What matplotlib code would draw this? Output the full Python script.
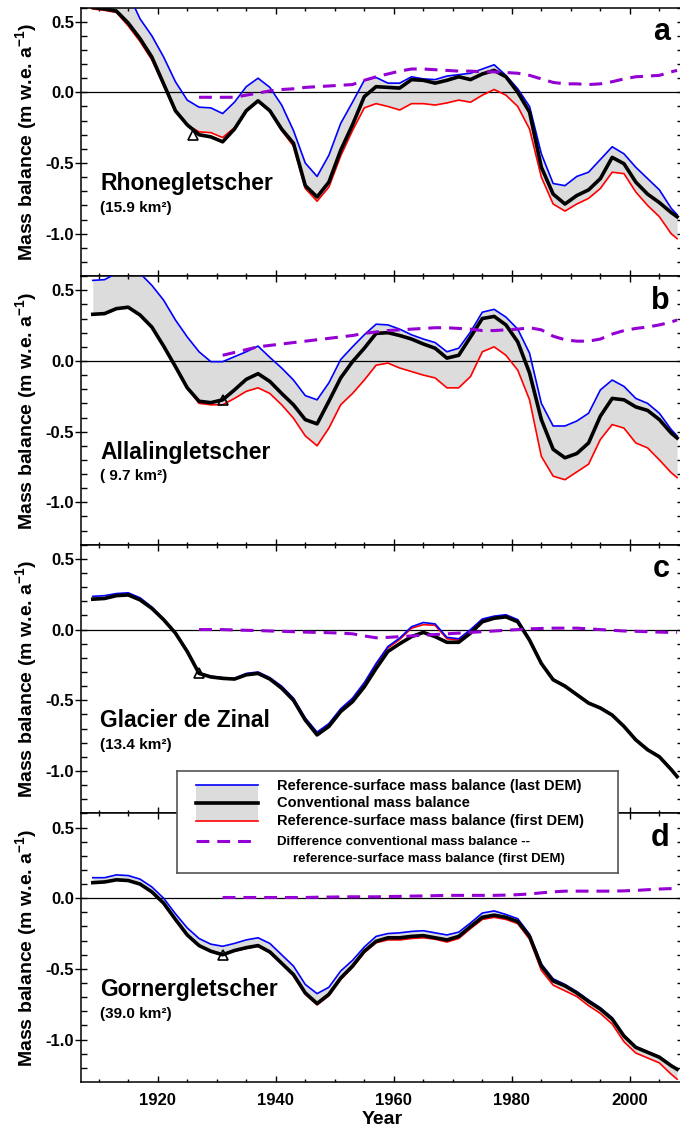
import numpy as np
import matplotlib
matplotlib.use("Agg")
import matplotlib.pyplot as plt
from matplotlib.patches import Rectangle

plt.rcParams['font.family'] = ['Liberation Sans', 'DejaVu Sans']
plt.rcParams['font.weight'] = 'bold'
plt.rcParams['mathtext.fontset'] = 'custom'
plt.rcParams['mathtext.rm'] = 'Liberation Sans:bold'
plt.rcParams['mathtext.default'] = 'rm'

# ---------------- data ----------------
YEARS = list(range(1909, 2008, 2)) + [2008]
NAN = float('nan')

GLACIERS = ['Rhonegletscher', 'Allalingletscher', 'Glacier de Zinal', 'Gornergletscher']
AREAS = ['(15.9 km\u00b2)', '( 9.7 km\u00b2)', '(13.4 km\u00b2)', '(39.0 km\u00b2)']
LETTERS = ['a', 'b', 'c', 'd']

# first-DEM marker (triangle)
TRI_YEAR = [1926, 1931, 1927, 1931]
TRI_VALUE = [-0.30, -0.275, -0.31, -0.40]

# Panel a: Rhonegletscher
conv_a = [0.60, 0.59, 0.575, 0.49, 0.38, 0.25, 0.06, -0.13, -0.23, -0.30, -0.315,
          -0.35, -0.26, -0.13, -0.06, -0.13, -0.26, -0.36, -0.66, -0.74, -0.635,
          -0.41, -0.23, -0.03, 0.04, 0.035, 0.03, 0.09, 0.085, 0.065, 0.085,
          0.11, 0.09, 0.13, 0.155, 0.11, 0.0, -0.14, -0.53, -0.72, -0.79,
          -0.73, -0.69, -0.61, -0.46, -0.505, -0.635, -0.72, -0.78, -0.85, -0.88]
last_a = [0.78, 0.80, 0.79, 0.70, 0.52, 0.40, 0.25, 0.075, -0.055, -0.105, -0.11,
          -0.15, -0.07, 0.04, 0.10, 0.035, -0.09, -0.27, -0.50, -0.595, -0.445,
          -0.22, -0.07, 0.085, 0.105, 0.065, 0.065, 0.11, 0.095, 0.09, 0.115,
          0.125, 0.135, 0.165, 0.195, 0.12, 0.025, -0.10, -0.435, -0.645, -0.66,
          -0.595, -0.565, -0.475, -0.385, -0.435, -0.53, -0.61, -0.69, -0.82, -0.865]
first_a = [0.59, 0.58, 0.565, 0.47, 0.36, 0.23, 0.05, -0.14, -0.23, -0.28, -0.285,
           -0.32, -0.25, -0.13, -0.065, -0.135, -0.27, -0.38, -0.68, -0.77, -0.67,
           -0.45, -0.27, -0.11, -0.08, -0.10, -0.125, -0.08, -0.08, -0.09, -0.075,
           -0.055, -0.07, -0.02, 0.02, -0.02, -0.10, -0.26, -0.60, -0.79, -0.84,
           -0.79, -0.75, -0.68, -0.565, -0.575, -0.705, -0.80, -0.88, -1.00, -1.035]
diff_a = [NAN] * 9 + [-0.035, -0.035, -0.035, -0.035, -0.02, -0.005, 0.01, 0.02, 0.025, 0.035,
                      0.04, 0.045, 0.05, 0.055, 0.085, 0.11, 0.13, 0.15, 0.165, 0.165,
                      0.16, 0.155, 0.15, 0.15, 0.145, 0.145, 0.14, 0.135, 0.12, 0.095,
                      0.07, 0.06, 0.06, 0.055, 0.06, 0.075, 0.095, 0.11, 0.115, 0.12,
                      0.145, 0.155]

# Panel b: Allalingletscher
conv_b = [0.33, 0.335, 0.37, 0.38, 0.325, 0.24, 0.105, -0.04, -0.19, -0.285, -0.295,
          -0.275, -0.205, -0.13, -0.09, -0.145, -0.23, -0.31, -0.415, -0.445, -0.285,
          -0.12, -0.005, 0.09, 0.195, 0.20, 0.18, 0.155, 0.12, 0.09, 0.02,
          0.04, 0.17, 0.30, 0.315, 0.255, 0.135, -0.085, -0.415, -0.625, -0.685,
          -0.655, -0.58, -0.39, -0.265, -0.275, -0.325, -0.35, -0.415, -0.51, -0.545]
last_b = [0.57, 0.575, 0.62, 0.65, 0.62, 0.535, 0.43, 0.29, 0.17, 0.065, -0.005,
          -0.005, 0.03, 0.065, 0.105, 0.025, -0.05, -0.135, -0.245, -0.275, -0.155,
          0.01, 0.10, 0.185, 0.26, 0.255, 0.225, 0.185, 0.155, 0.13, 0.065,
          0.09, 0.205, 0.345, 0.365, 0.31, 0.225, 0.055, -0.30, -0.46, -0.46,
          -0.425, -0.37, -0.205, -0.135, -0.18, -0.265, -0.30, -0.37, -0.485, -0.53]
first_b = [0.33, 0.335, 0.37, 0.38, 0.325, 0.24, 0.105, -0.04, -0.19, -0.30, -0.31,
           -0.31, -0.265, -0.215, -0.19, -0.23, -0.31, -0.405, -0.53, -0.60, -0.475,
           -0.31, -0.23, -0.135, -0.03, -0.015, -0.05, -0.075, -0.10, -0.12, -0.19,
           -0.19, -0.11, 0.065, 0.10, 0.04, -0.065, -0.275, -0.675, -0.815, -0.84,
           -0.785, -0.73, -0.555, -0.45, -0.475, -0.58, -0.615, -0.70, -0.79, -0.825]
diff_b = [NAN] * 11 + [0.04, 0.06, 0.08, 0.10, 0.11, 0.12, 0.13, 0.14, 0.15, 0.16,
                       0.17, 0.18, 0.195, 0.205, 0.215, 0.22, 0.225, 0.23, 0.235, 0.235,
                       0.23, 0.225, 0.215, 0.215, 0.22, 0.225, 0.235, 0.22, 0.175, 0.15,
                       0.14, 0.14, 0.155, 0.19, 0.215, 0.23, 0.24, 0.255, 0.275, 0.29]

# Panel c: Glacier de Zinal
conv_c = [0.215, 0.22, 0.24, 0.245, 0.21, 0.15, 0.07, -0.025, -0.155, -0.31, -0.335,
          -0.345, -0.35, -0.32, -0.31, -0.35, -0.415, -0.50, -0.64, -0.745, -0.685,
          -0.58, -0.51, -0.405, -0.275, -0.155, -0.10, -0.05, -0.02, -0.05, -0.09,
          -0.09, -0.025, 0.055, 0.08, 0.09, 0.055, -0.075, -0.24, -0.355, -0.40,
          -0.46, -0.52, -0.555, -0.605, -0.685, -0.78, -0.85, -0.90, -0.99, -1.04]
last_c = [0.235, 0.24, 0.255, 0.26, 0.225, 0.16, 0.075, -0.02, -0.15, -0.305, -0.33,
          -0.34, -0.345, -0.31, -0.30, -0.34, -0.40, -0.485, -0.625, -0.725, -0.665,
          -0.56, -0.485, -0.375, -0.24, -0.12, -0.06, 0.02, 0.05, 0.04, -0.055,
          -0.065, 0.0, 0.075, 0.095, 0.105, 0.07, -0.065, -0.235, -0.35, -0.395,
          -0.455, -0.515, -0.55, -0.60, -0.68, -0.775, -0.845, -0.895, -0.985, -1.035]
first_c = [0.22, 0.225, 0.245, 0.25, 0.215, 0.155, 0.07, -0.025, -0.155, -0.31, -0.335,
           -0.345, -0.35, -0.32, -0.31, -0.35, -0.41, -0.495, -0.635, -0.74, -0.68,
           -0.575, -0.50, -0.39, -0.245, -0.13, -0.07, 0.01, 0.035, 0.03, -0.065,
           -0.075, -0.005, 0.07, 0.09, 0.10, 0.065, -0.07, -0.24, -0.355, -0.40,
           -0.46, -0.52, -0.555, -0.605, -0.685, -0.78, -0.85, -0.90, -0.99, -1.04]
diff_c = [NAN] * 9 + [0.0, 0.0, 0.0, -0.003, -0.005, -0.007, -0.01, -0.012, -0.015, -0.018,
                      -0.02, -0.022, -0.025, -0.03, -0.045, -0.058, -0.055, -0.05, -0.045, -0.04,
                      -0.035, -0.03, -0.025, -0.02, -0.015, -0.01, -0.005, 0.0, 0.005, 0.008,
                      0.01, 0.01, 0.01, 0.005, 0.0, -0.005, -0.01, -0.012, -0.015, -0.018,
                      -0.02, -0.02]

# Panel d: Gornergletscher
conv_d = [0.11, 0.115, 0.13, 0.125, 0.10, 0.045, -0.035, -0.15, -0.26, -0.335, -0.375,
          -0.40, -0.37, -0.35, -0.335, -0.38, -0.46, -0.54, -0.67, -0.745, -0.68,
          -0.565, -0.48, -0.375, -0.305, -0.28, -0.28, -0.27, -0.265, -0.28, -0.295,
          -0.27, -0.20, -0.135, -0.12, -0.135, -0.165, -0.27, -0.48, -0.585, -0.62,
          -0.67, -0.73, -0.785, -0.855, -0.975, -1.055, -1.09, -1.125, -1.185, -1.21]
last_d = [0.145, 0.145, 0.165, 0.16, 0.135, 0.08, 0.0, -0.11, -0.21, -0.285, -0.325,
          -0.34, -0.32, -0.295, -0.28, -0.32, -0.40, -0.48, -0.61, -0.675, -0.63,
          -0.515, -0.44, -0.345, -0.27, -0.25, -0.245, -0.235, -0.23, -0.245, -0.26,
          -0.24, -0.175, -0.105, -0.09, -0.115, -0.145, -0.255, -0.465, -0.57, -0.61,
          -0.66, -0.72, -0.775, -0.845, -0.97, -1.05, -1.085, -1.12, -1.18, -1.205]
first_d = [0.11, 0.115, 0.13, 0.125, 0.10, 0.045, -0.035, -0.15, -0.26, -0.335, -0.375,
           -0.40, -0.375, -0.355, -0.34, -0.385, -0.465, -0.55, -0.68, -0.755, -0.69,
           -0.575, -0.49, -0.385, -0.315, -0.295, -0.295, -0.285, -0.28, -0.29, -0.31,
           -0.285, -0.215, -0.15, -0.135, -0.15, -0.18, -0.29, -0.51, -0.615, -0.655,
           -0.695, -0.76, -0.815, -0.89, -1.015, -1.095, -1.13, -1.165, -1.245, -1.28]
diff_d = [NAN] * 11 + [0.005, 0.005, 0.005, 0.005, 0.005, 0.005, 0.005, 0.005, 0.007, 0.008,
                       0.009, 0.01, 0.01, 0.01, 0.012, 0.013, 0.015, 0.016, 0.018, 0.02,
                       0.02, 0.02, 0.02, 0.02, 0.022, 0.025, 0.03, 0.038, 0.045, 0.05,
                       0.05, 0.05, 0.05, 0.05, 0.052, 0.055, 0.06, 0.065, 0.068, 0.07]

CONV = [conv_a, conv_b, conv_c, conv_d]
LAST = [last_a, last_b, last_c, last_d]
FIRST = [first_a, first_b, first_c, first_d]
DIFF = [diff_a, diff_b, diff_c, diff_d]

LEGEND_LABELS = ['Reference-surface mass balance (last DEM)',
                 'Conventional mass balance',
                 'Reference-surface mass balance (first DEM)',
                 'Difference conventional mass balance --',
                 'reference-surface mass balance (first DEM)']

# ---------------- style ----------------
C_BLUE = '#0000ff'
C_RED = '#ff0000'
C_PURPLE = '#9400d3'
C_FILL = '#dcdcdc'

W, H = 680, 1129
fig = plt.figure(figsize=(W / 100, H / 100), dpi=100)

ax_left_px, ax_right_px = 81, 683
top_px, bottom_px = 7.5, 1082
panel_h = (bottom_px - top_px) / 4
years = np.array(YEARS, dtype=float)

for i in range(4):
    ptop = top_px + i * panel_h
    ax = fig.add_axes([ax_left_px / W, 1 - (ptop + panel_h) / H,
                       (ax_right_px - ax_left_px) / W, panel_h / H])
    conv = np.array(CONV[i]); last = np.array(LAST[i])
    first = np.array(FIRST[i]); diff = np.array(DIFF[i])
    for arr in (conv, last, first, diff):
        assert len(arr) == len(years)

    ax.fill_between(years, last, first, color=C_FILL, lw=0, zorder=1)
    ax.axhline(0, color='black', lw=0.9, zorder=2)
    ax.plot(years, first, color=C_RED, lw=1.2, zorder=3)
    ax.plot(years, last, color=C_BLUE, lw=1.2, zorder=4)
    ax.plot(years, conv, color='black', lw=2.6, zorder=5)
    ax.plot(years, diff, color=C_PURPLE, lw=2.2, dashes=(4.2, 2.6), zorder=6)
    ax.plot([TRI_YEAR[i]], [TRI_VALUE[i]], marker='^', ms=7, mfc='none',
            mec='black', mew=1.2, ls='none', zorder=7)

    ax.set_xlim(1907, 2009)
    ax.set_ylim(-1.3, 0.6)
    ax.set_xticks([1920, 1940, 1960, 1980, 2000])
    ax.set_xticks(np.arange(1910, 2010, 5), minor=True)
    ax.set_yticks([-1.0, -0.5, 0.0, 0.5])
    ax.set_yticklabels(['-1.0', '-0.5', '0.0', '0.5'])
    ax.set_yticks(np.arange(-1.2, 0.61, 0.1), minor=True)
    ax.tick_params(axis='x', which='major', direction='in', length=4, width=1,
                   top=True, bottom=True, labelsize=12, pad=8)
    ax.tick_params(axis='x', which='minor', direction='in', length=2.5, width=1,
                   top=True, bottom=True)
    ax.tick_params(axis='y', which='major', direction='inout', length=8, width=1,
                   left=True, right=True, labelsize=12, pad=1)
    ax.tick_params(axis='y', which='minor', direction='in', length=4, width=1,
                   left=True, right=True)
    for lab in ax.get_xticklabels() + ax.get_yticklabels():
        lab.set_fontweight('bold')
    if i < 3:
        ax.tick_params(axis='x', which='both', labelbottom=False)
    else:
        ax.set_xlabel('Year', fontsize=14, fontweight='bold', labelpad=2)
    for sp in ax.spines.values():
        sp.set_linewidth(1.1)

    ax.text((26 - ax_left_px) / (ax_right_px - ax_left_px), 0.5,
            'Mass balance (m w.e. a$^{-1}$)', transform=ax.transAxes,
            rotation=90, ha='center', va='center', fontsize=14, fontweight='bold')
    ax.text((670 - ax_left_px) / (ax_right_px - ax_left_px), (0.37 + 1.3) / 1.9,
            LETTERS[i], transform=ax.transAxes, ha='right', va='baseline',
            fontsize=22, fontweight='bold')
    ax.text((100 - ax_left_px) / (ax_right_px - ax_left_px), (-0.69 + 1.3) / 1.9,
            GLACIERS[i], transform=ax.transAxes, ha='left', va='baseline',
            fontsize=16.5, fontweight='bold')
    ax.text((100 - ax_left_px) / (ax_right_px - ax_left_px), (-0.845 + 1.3) / 1.9,
            AREAS[i], transform=ax.transAxes, ha='left', va='baseline',
            fontsize=11, fontweight='bold')

# ---------------- legend box ----------------
lx0, lx1, ly0, ly1 = 177, 618, 771, 873
lax = fig.add_axes([lx0 / W, 1 - ly1 / H, (lx1 - lx0) / W, (ly1 - ly0) / H])
lax.set_xlim(0, lx1 - lx0)
lax.set_ylim(ly1 - ly0, 0)
lax.set_xticks([]); lax.set_yticks([])
lax.set_facecolor('white')
for sp in lax.spines.values():
    sp.set_color('#555555'); sp.set_linewidth(1.2)
lax.add_patch(Rectangle((19, 14), 62, 36, color=C_FILL, lw=0))
lax.plot([19, 81], [14, 14], color=C_BLUE, lw=1.2)
lax.plot([19, 81], [32, 32], color='black', lw=2.6)
lax.plot([19, 81], [50, 50], color=C_RED, lw=1.2)
lax.plot([19, 81], [70, 70], color=C_PURPLE, lw=2.2, dashes=(4.2, 2.6))
lax.text(100, 15, LEGEND_LABELS[0], fontsize=10.5, fontweight='bold', va='center')
lax.text(100, 32, LEGEND_LABELS[1], fontsize=10.5, fontweight='bold', va='center')
lax.text(100, 50, LEGEND_LABELS[2], fontsize=10.5, fontweight='bold', va='center')
lax.text(100, 71, LEGEND_LABELS[3], fontsize=9.5, fontweight='bold', va='center')
lax.text(116, 88, LEGEND_LABELS[4], fontsize=9.5, fontweight='bold', va='center')

fig.savefig('out.png', dpi=100)
